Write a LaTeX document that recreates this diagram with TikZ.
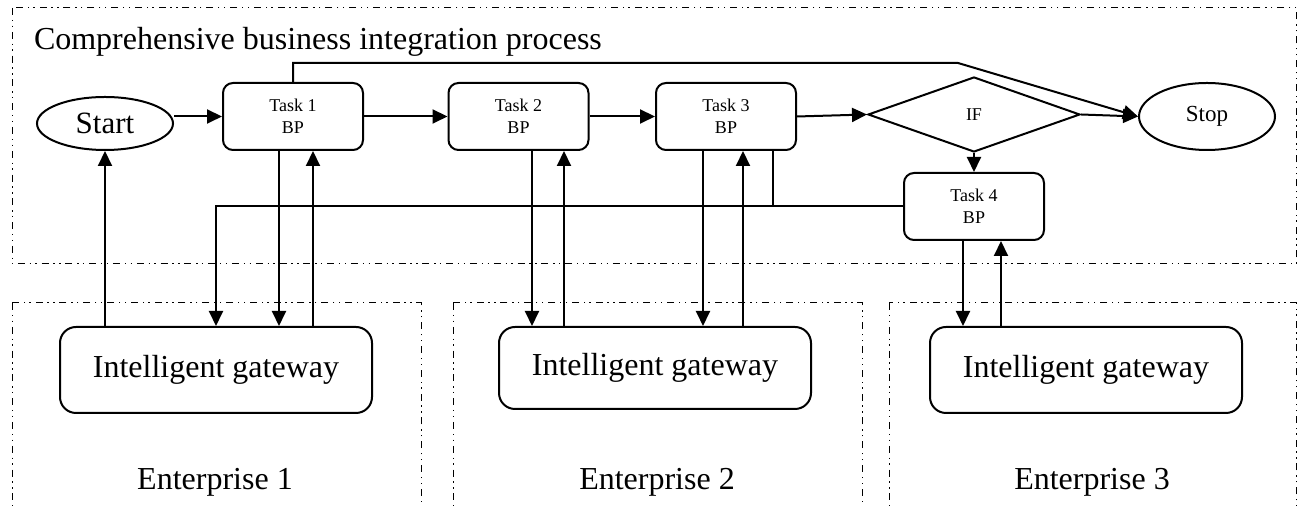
\documentclass[tikz,border=0pt]{standalone}
\usepackage{fontspec}
\setmainfont{Liberation Serif}
\usetikzlibrary{shapes.geometric}
\usetikzlibrary{calc}
\usetikzlibrary{positioning}
\usetikzlibrary{arrows.meta}

\begin{document}
\begin{tikzpicture}[x=0.5pt, y=-0.5pt, black, line width = 1pt,
    frame/.style = {line width=0.5pt, dash pattern=on 3.5pt off 2.4pt on 0.7pt off 2.2pt on 0.7pt off 2.4pt},
    arr/.style = {-{Triangle[length=7.5pt, width=7pt]}},
    taskbox/.style = {rectangle, rounded corners=5pt, draw, minimum width=70pt, minimum height=33.5pt, inner sep=0pt, align=center, font=\fontsize{9}{11}\selectfont},
    gatebox/.style = {rectangle, rounded corners=8pt, draw, minimum width=156pt, minimum height=43pt, inner sep=0pt, font=\fontsize{16}{19}\selectfont},
    bigtext/.style = {font=\fontsize{16}{19}\selectfont}]

    \clip (0,0) rectangle (1298,506);
    \useasboundingbox (0,0) rectangle (1298,506);

    % frames
    \draw[frame] (12,8) rectangle (1296.5,264);
    \draw[frame] (12,303) rectangle (421,540);
    \draw[frame] (453,303) rectangle (862,540);
    \draw[frame] (889,303) rectangle (1296.5,540);

    \node (title) at (33,50) [anchor=base west, inner sep=0pt, bigtext] {Comprehensive business integration process};

    % process
    \node (Start) at (105,123.5) [ellipse, draw, minimum width=68pt, minimum height=26.5pt, inner sep=0pt, font=\fontsize{15.5}{18}\selectfont] {Start};
    \node (T1) at (293,116.5) [taskbox] {Task 1\\BP};
    \node (T2) at (518.5,116.5) [taskbox] {Task 2\\BP};
    \node (T3) at (726,116.5) [taskbox] {Task 3\\BP};
    \node (IF) at (974,114.5) [diamond, draw, aspect=2.83, minimum width=106pt, minimum height=37.5pt, inner sep=0pt, font=\fontsize{9}{11}\selectfont] {IF};
    \node (Stop) at (1207,116.5) [ellipse, draw, minimum width=68pt, minimum height=33.5pt, inner sep=0pt, font=\fontsize{11.5}{14}\selectfont] {Stop};
    \node (T4) at (974,206.5) [taskbox] {Task 4\\BP};

    % gateways
    \node (G1) at (216,370) [gatebox] {Intelligent gateway};
    \node (G2) at (655,368) [gatebox, minimum height=41pt] {\raisebox{4pt}{Intelligent gateway}};
    \node (G3) at (1086,370) [gatebox] {\raisebox{4pt}{Intelligent gateway}};

    \node (E1) at (215,490) [anchor=base, bigtext] {Enterprise 1};
    \node (E2) at (657,490) [anchor=base, bigtext] {Enterprise 2};
    \node (E3) at (1092,490) [anchor=base, bigtext] {Enterprise 3};

    \coordinate (bend) at (958,63);

    % flow
    \draw[arr] (Start.east |- T1.west) -- (T1.west);
    \draw[arr] (T1) -- (T2);
    \draw[arr] (T2) -- (T3);
    \draw[arr] (T3.east) -- (IF.west);
    \draw[arr] (IF.east) -- (Stop.west);
    \draw[arr] (IF.south) -- (T4.north);
    \draw[arr] (T1.north) |- (bend) -- (Stop.west);

    % links to gateways
    \draw[arr] (Start.south |- G1.north) -- (Start.south);
    \draw[arr] ([xshift=-7pt]T1.south) -- ([xshift=-7pt]T1.south |- G1.north);
    \draw[arr] ([xshift=10pt]T1.south |- G1.north) -- ([xshift=10pt]T1.south);
    \draw[arr] ([xshift=6.75pt]T2.south) -- ([xshift=6.75pt]T2.south |- G2.north);
    \draw[arr] ([xshift=22.75pt]T2.south |- G2.north) -- ([xshift=22.75pt]T2.south);
    \draw[arr] ([xshift=-11.5pt]T3.south) -- ([xshift=-11.5pt]T3.south |- G2.north);
    \draw[arr] ([xshift=8.5pt]T3.south |- G2.north) -- ([xshift=8.5pt]T3.south);
    \draw ([xshift=23.5pt]T3.south) -- ([xshift=23.5pt]T3.south |- T4.west);
    \draw[arr] (T4.west) -| (G1.north);
    \draw[arr] ([xshift=-5.5pt]T4.south) -- ([xshift=-5.5pt]T4.south |- G3.north);
    \draw[arr] ([xshift=13.5pt]T4.south |- G3.north) -- ([xshift=13.5pt]T4.south);

\end{tikzpicture}
\end{document}
